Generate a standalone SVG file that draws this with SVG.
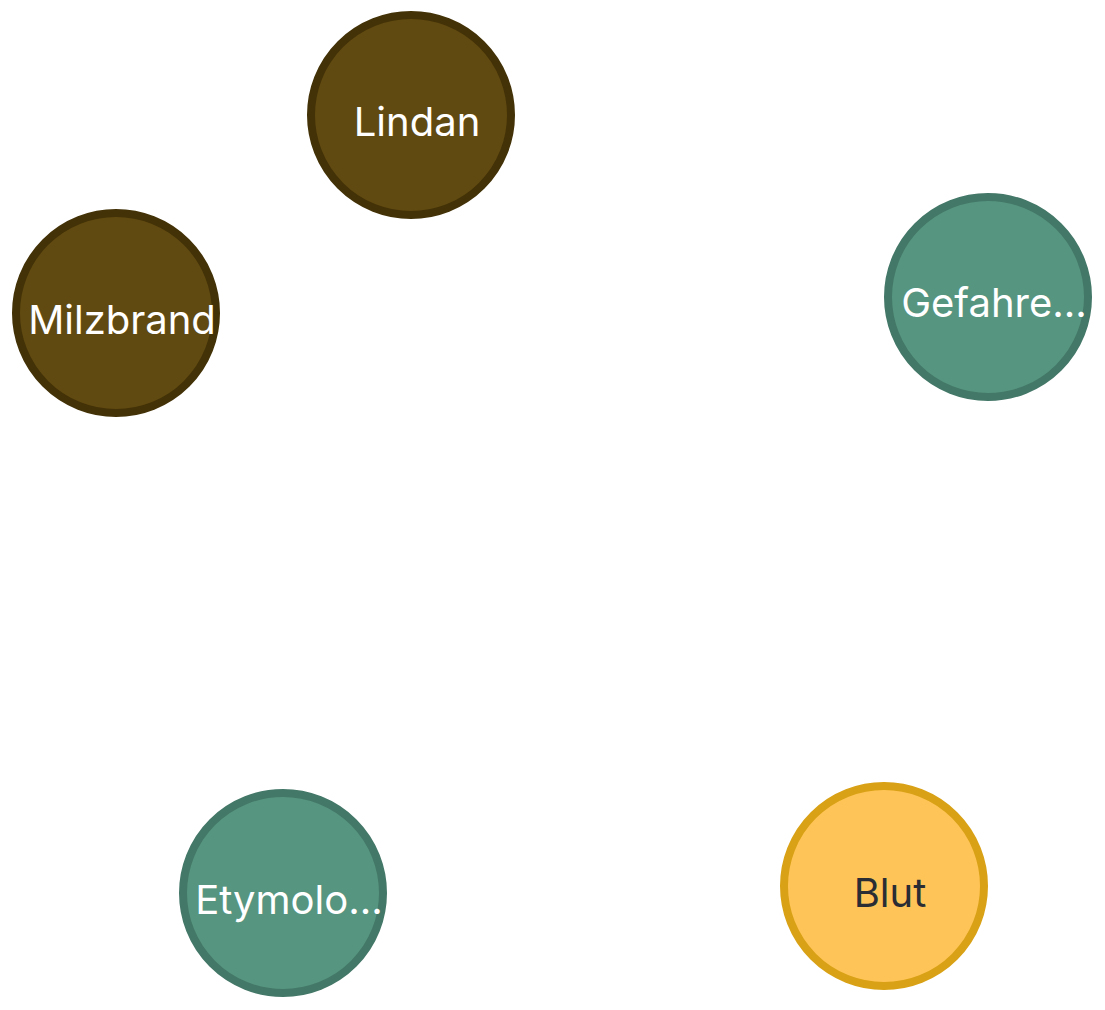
<svg xmlns="http://www.w3.org/2000/svg" width="1105" height="1010" viewBox="0 0 1105 1010">
<style>
.n circle{stroke-width:8}
.brown circle{fill:#614a11;stroke:#433207}
.green circle{fill:#56957f;stroke:#437767}
.gold circle{fill:#ffc457;stroke:#d9a115}
text{font-family:Inter,"Noto Sans",sans-serif;font-size:40px;text-anchor:middle}
.brown text,.green text{fill:#ffffff}
.gold text{fill:#2a2d34}
</style>
<rect width="1105" height="1010" fill="#ffffff"/>
<g id="connectors"></g>
<g id="node-lindan" class="n brown"><circle cx="411" cy="115" r="100"/><text x="417" y="136">Lindan</text></g>
<g id="node-milzbrand" class="n brown"><circle cx="116" cy="313" r="100"/><text x="122" y="334">Milzbrand</text></g>
<g id="node-gefahre" class="n green"><circle cx="988" cy="297" r="100"/><text x="994" y="317">Gefahre...</text></g>
<g id="node-etymolo" class="n green"><circle cx="283" cy="893" r="100"/><text x="289" y="914">Etymolo...</text></g>
<g id="node-blut" class="n gold"><circle cx="884" cy="886" r="100"/><text x="890" y="907">Blut</text></g>
</svg>
